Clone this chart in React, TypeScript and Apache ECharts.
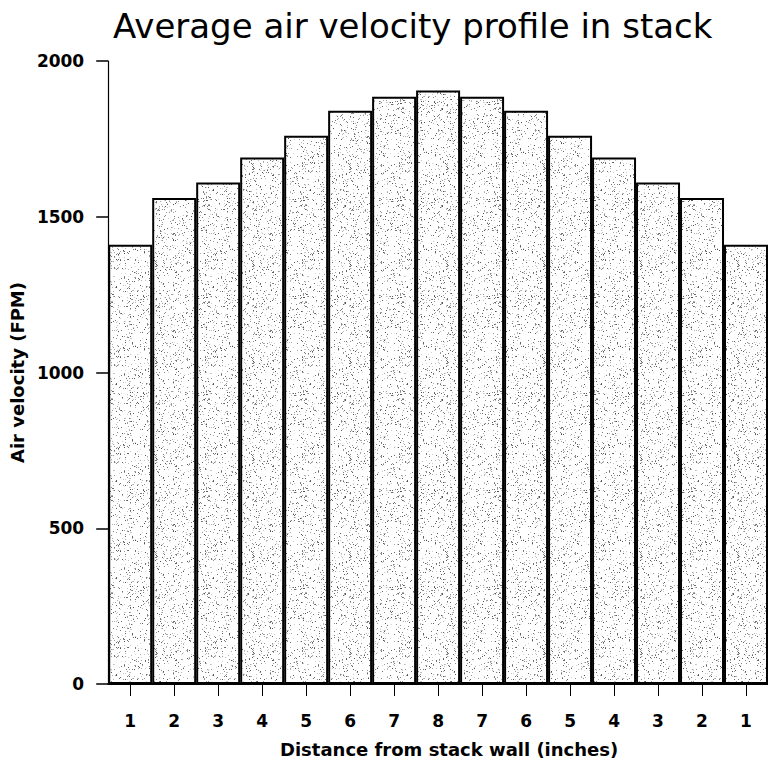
import React, { useEffect, useRef } from "react";
import * as echarts from "echarts";

const categories = ["1", "2", "3", "4", "5", "6", "7", "8", "7", "6", "5", "4", "3", "2", "1"];
const velocities = [1410, 1560, 1610, 1690, 1760, 1840, 1885, 1905, 1885, 1840, 1760, 1690, 1610, 1560, 1410];
const yTicks = [0, 500, 1000, 1500, 2000];

const titleText = "Average air velocity profile in stack";
const xName = "Distance from stack wall (inches)";
const yName = "Air velocity (FPM)";

const FONT = "DejaVu Sans, Liberation Sans, Arial, sans-serif";

function makeStipple(): HTMLCanvasElement {
  const c = document.createElement("canvas");
  c.width = 97;
  c.height = 97;
  const ctx = c.getContext("2d")!;
  ctx.fillStyle = "#ffffff";
  ctx.fillRect(0, 0, 97, 97);
  let s = 987654321;
  const next = () => {
    s = (s * 1103515245 + 12345) & 0x7fffffff;
    return s / 0x7fffffff;
  };
  for (let i = 0; i < 1000; i++) {
    const x = Math.floor(next() * 97);
    const y = Math.floor(next() * 97);
    const g = Math.floor(80 + next() * 140);
    ctx.fillStyle = `rgb(${g},${g},${g})`;
    ctx.fillRect(x, y, 1, 1);
  }
  return c;
}

export default function App() {
  const ref = useRef<HTMLDivElement>(null);
  useEffect(() => {
    if (!ref.current) return;
    const chart = echarts.init(ref.current, null, { renderer: "svg" });
    const pattern = { image: makeStipple(), repeat: "repeat" };
    chart.setOption({
      animation: false,
      backgroundColor: "#ffffff",
      title: {
        text: titleText,
        left: 108,
        top: 4,
        textStyle: {
          fontFamily: FONT,
          fontSize: 34,
          fontWeight: "normal",
          color: "#000",
        },
      },
      grid: { left: 107, top: 61, width: 666, bottom: 77, containLabel: false },
      xAxis: {
        type: "category",
        data: categories,
        name: xName,
        nameLocation: "middle",
        nameGap: 56,
        nameTextStyle: {
          fontFamily: FONT,
          fontSize: 18,
          fontWeight: "bold",
          color: "#000",
          padding: [0, 0, 0, 22],
        },
        axisLine: { show: true, lineStyle: { color: "#000", width: 2 } },
        axisTick: { show: true, alignWithLabel: true, length: 12, lineStyle: { color: "#000", width: 1 } },
        axisLabel: {
          margin: 28,
          fontFamily: FONT,
          fontSize: 17,
          fontWeight: "bold",
          color: "#000",
        },
        splitLine: { show: false },
      },
      yAxis: {
        type: "value",
        min: yTicks[0],
        max: yTicks[yTicks.length - 1],
        interval: 500,
        name: yName,
        nameLocation: "middle",
        nameGap: 77,
        nameTextStyle: {
          fontFamily: FONT,
          fontSize: 18,
          fontWeight: "bold",
          color: "#000",
        },
        axisLine: { show: true, lineStyle: { color: "#000", width: 1.2 } },
        axisTick: { show: true, length: 12, lineStyle: { color: "#000", width: 1.5 } },
        axisLabel: {
          margin: 24,
          fontFamily: FONT,
          fontSize: 17,
          fontWeight: "bold",
          color: "#000",
          formatter: (v: number) => String(v),
        },
        splitLine: { show: false },
      },
      series: [
        {
          type: "bar",
          data: velocities,
          barCategoryGap: "0%",
          itemStyle: {
            color: pattern,
            borderColor: "#000",
            borderWidth: 2,
          },
        },
      ],
    });
    return () => chart.dispose();
  }, []);
  return <div ref={ref} style={{ width: 768, height: 763, position: "absolute", left: 0, top: 0 }} />;
}
